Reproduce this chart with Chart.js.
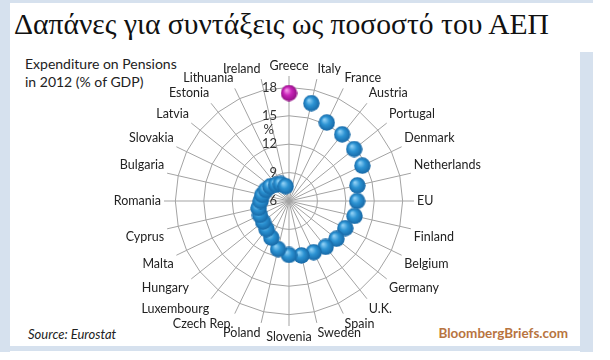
<!DOCTYPE html>
<html>
<head>
<meta charset="utf-8">
<script src="https://cdn.jsdelivr.net/npm/chart.js@4.4.1/dist/chart.umd.min.js"></script>
<style>
  body { margin: 0; background: #fff; width: 610px; height: 360px; overflow: hidden; position: relative; }
  .frame { position: absolute; background: #d6e1ee; }
  .title { position: absolute; left: 14px; top: 8px; font-family: "Liberation Serif", serif; font-size: 29.6px; color: #111; white-space: nowrap; }
  .subtitle { position: absolute; left: 25px; top: 55px; font-family: Lato, sans-serif; font-size: 14px; line-height: 18px; color: #222; }
  .source { position: absolute; left: 28px; top: 326px; font-family: Lato, sans-serif; font-style: italic; font-size: 13px; color: #222; }
  .brand { position: absolute; right: 42px; top: 325px; font-family: Lato, sans-serif; font-weight: bold; font-size: 13.5px; color: #b87440; }
  #wrap { position: absolute; left: 10px; top: 52px; width: 570px; height: 293px; }
</style>
</head>
<body>
<div class="frame" style="left:0;top:0;width:593px;height:3px"></div>
<div class="frame" style="left:0;top:0;width:10px;height:352px"></div>
<div class="frame" style="left:580px;top:52px;width:13px;height:300px"></div>
<div class="frame" style="left:0;top:346px;width:593px;height:5px"></div>
<div class="title">Δαπάνες για συντάξεις ως ποσοστό του ΑΕΠ</div>
<div class="subtitle">Expenditure on Pensions<br>in 2012 (% of GDP)</div>
<div class="source">Source: Eurostat</div>
<div class="brand">BloombergBriefs.com</div>
<div id="wrap"><canvas id="chart"></canvas></div>
<script>
const countries = ['Greece', 'Italy', 'France', 'Austria', 'Portugal', 'Denmark', 'Netherlands', 'EU',
  'Finland', 'Belgium', 'Germany', 'U.K.', 'Spain', 'Sweden', 'Slovenia', 'Poland', 'Czech Rep.',
  'Luxembourg', 'Hungary', 'Malta', 'Cyprus', 'Romania', 'Bulgaria', 'Slovakia', 'Latvia', 'Estonia',
  'Lithuania', 'Ireland'];
const pensions = [17.4, 16.6, 15.2, 15.0, 14.8, 14.6, 13.4, 13.2, 13.1, 12.6, 12.4, 12.2, 12.0, 11.9,
  11.7, 11.2, 10.3, 9.8, 9.5, 9.4, 9.3, 9.0, 8.9, 8.7, 8.5, 8.2, 8.0, 7.6];
const tickValues = [6, 9, 12, 15, 18];
const unitLabel = '%';

// shaded ball used as point style
function makeBall(light, mid, dark) {
  var c = document.createElement('canvas');
  c.width = 17; c.height = 17;
  var g = c.getContext('2d');
  var grad = g.createRadialGradient(6, 5.5, 0.5, 8.5, 8.5, 8.5);
  grad.addColorStop(0, light);
  grad.addColorStop(0.45, mid);
  grad.addColorStop(1, dark);
  g.fillStyle = grad;
  g.beginPath();
  g.arc(8.5, 8.5, 8.2, 0, Math.PI * 2);
  g.fill();
  return c;
}
const blueBall = makeBall('#8fd0f5', '#2c93d3', '#1565a3');
const pinkBall = makeBall('#f59be9', '#c922b9', '#8d0f80');

// tick labels sit to the left of the top spoke
const tickLabels = {
  id: 'tickLabels',
  afterDatasetsDraw(chart) {
    const r = chart.scales.r;
    const ctx = chart.ctx;
    ctx.save();
    ctx.font = '13px Lato, sans-serif';
    ctx.fillStyle = '#333';
    ctx.textAlign = 'right';
    ctx.textBaseline = 'middle';
    tickValues.forEach(function(v) {
      ctx.fillText(String(v), r.xCenter - 12, r.yCenter - r.getDistanceFromCenterForValue(v));
    });
    ctx.fillText(unitLabel, r.xCenter - 15, r.yCenter - r.getDistanceFromCenterForValue(13.5));
    ctx.restore();
  }
};

new Chart(document.getElementById('chart'), {
  type: 'radar',
  data: {
    labels: countries,
    datasets: [{
      data: pensions,
      showLine: false,
      fill: false,
      pointStyle: function(c) { return c.dataIndex === 0 ? pinkBall : blueBall; },
      pointRadius: 8,
      backgroundColor: 'rgba(0,0,0,0)',
      borderColor: 'rgba(0,0,0,0)'
    }]
  },
  options: {
    responsive: true,
    maintainAspectRatio: false,
    animation: false,
    layout: { padding: { left: 0, right: 12, top: 6, bottom: 0 } },
    plugins: { legend: { display: false }, tooltip: { enabled: false } },
    scales: {
      r: {
        min: 6,
        max: 19.2,
        ticks: { stepSize: 3, display: false },
        grid: {
          color: function(c) { return c.tick && c.tick.value > 18 ? 'rgba(0,0,0,0)' : '#a3a3a3'; },
          lineWidth: 1
        },
        angleLines: { color: '#a3a3a3', lineWidth: 1 },
        pointLabels: {
          font: { family: 'Lato', size: 12.5 },
          color: '#222',
          padding: 3
        }
      }
    }
  },
  plugins: [tickLabels]
});
</script>
</body>
</html>
